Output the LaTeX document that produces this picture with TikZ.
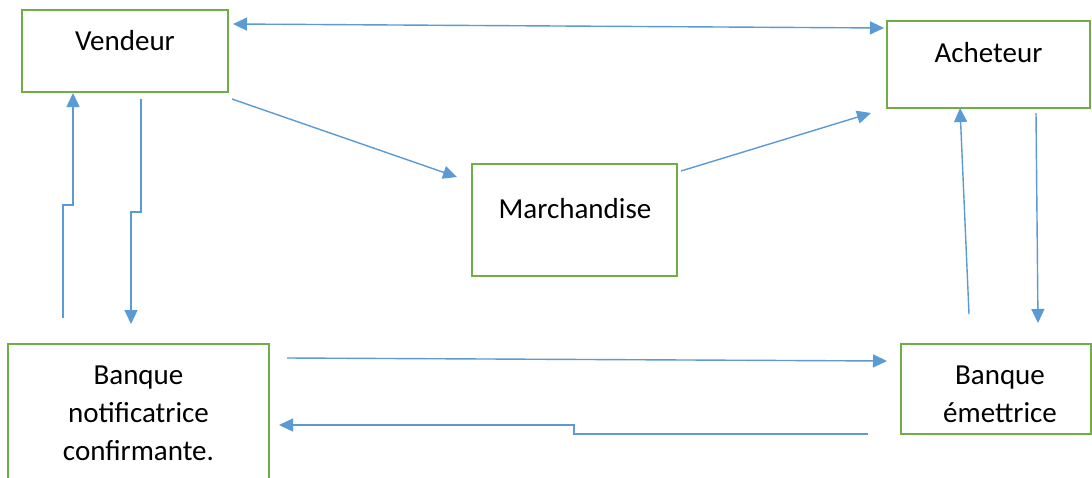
\documentclass[tikz,border=0pt]{standalone}
\usepackage{fontspec}
\setmainfont{Carlito}
\usetikzlibrary{arrows.meta}
\definecolor{boxgreen}{HTML}{70AD47}
\definecolor{arrowblue}{HTML}{5B9BD5}
\begin{document}
\begin{tikzpicture}[x=1pt,y=-1pt,
  box/.style={draw=boxgreen,line width=2.7pt,inner sep=0pt,fill=white},
  lbl/.style={anchor=base,align=center,inner sep=0pt,font=\fontsize{29}{38}\selectfont},
  conn/.style={draw=arrowblue,line width=1.4pt,-{Triangle[length=14pt,width=13pt]}},
  conn2/.style={draw=arrowblue,line width=1.4pt,{Triangle[length=14pt,width=13pt]}-{Triangle[length=14pt,width=13pt]}}]
\useasboundingbox (0,0) rectangle (1092,477);
\clip (0,0) rectangle (1092,477);
\fill[white] (0,0) rectangle (1092,477);
% boxes
\node[box,minimum width=206pt,minimum height=82pt] (vend) at (125,51) {};
\node[box,minimum width=203pt,minimum height=87pt] (ach) at (988.5,64.5) {};
\node[box,minimum width=205pt,minimum height=112pt] (march) at (574.5,220) {};
\node[box,minimum width=261pt,minimum height=156pt] (notif) at (138.5,422) {};
\node[box,minimum width=190pt,minimum height=90pt] (emet) at (996,389) {};
% labels (base = baseline of last line)
\node[lbl] (tvend) at (125,50) {Vendeur};
\node[lbl] (tach) at (988.5,62) {Acheteur};
\node[lbl] (tmarch) at (575,218) {Marchandise};
\node[lbl] (tnotif) at (138.5,460) {Banque\\notificatrice\\confirmante.};
\node[lbl] (temet) at (1000,422) {Banque\\émettrice};
% connector end points
\coordinate (vA) at (233,24);
\coordinate (aA) at (884,28);
\coordinate (vB) at (232,99);
\coordinate (mB) at (457,177);
\coordinate (mC) at (681,171);
\coordinate (aC) at (871,113);
\coordinate (nD) at (63,318);
\coordinate (vD) at (73,93);
\coordinate (vE) at (141,99);
\coordinate (nE) at (131,324);
\coordinate (nF) at (287,358);
\coordinate (eF) at (887,361);
\coordinate (eG) at (868,434);
\coordinate (nG) at (279,425);
\coordinate (eH) at (969,314);
\coordinate (aH) at (960,108);
\coordinate (aI) at (1036,113);
\coordinate (eI) at (1038,323);
% connectors
\draw[conn2] (vA) -- (aA);
\draw[conn] (vB) -- (mB);
\draw[conn] (mC) -- (aC);
\draw[conn] (nD) -- (63,205) -- (73,205) -- (vD);
\draw[conn] (vE) -- (141,212) -- (131,212) -- (nE);
\draw[conn] (nF) -- (eF);
\draw[conn] (eG) -- (574,434) -- (574,425) -- (nG);
\draw[conn] (eH) -- (aH);
\draw[conn] (aI) -- (eI);
\end{tikzpicture}
\end{document}
